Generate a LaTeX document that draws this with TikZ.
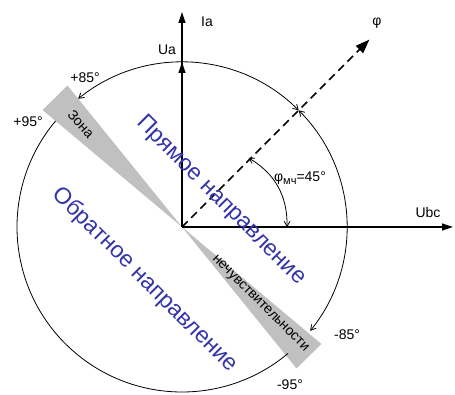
\documentclass[tikz,border=0pt]{standalone}
\usepackage{fontspec}
\setmainfont{Liberation Sans}
\usetikzlibrary{arrows.meta,calc}
\definecolor{txtblue}{RGB}{51,51,170}
\definecolor{zonegray}{RGB}{192,192,192}
\begin{document}
\begin{tikzpicture}[x=1pt,y=1pt,
 axis/.style={line width=1.2pt,-{Triangle[length=11pt,width=7pt]}},
 thinarc/.style={line width=0.8pt},
 barb/.style={line width=0.8pt,{Straight Barb[length=5pt,width=6pt]}-{Straight Barb[length=5pt,width=6pt]}},
 dasharrow/.style={line width=1.6pt,dash pattern=on 8pt off 5pt,-{Triangle[length=14pt,width=10pt]}},
 lbl/.style={font=\fontsize{14}{14}\selectfont,inner sep=0pt},
 big/.style={font=\fontsize{23}{23}\selectfont,text=txtblue,rotate=-45,inner sep=0pt},
 small/.style={font=\fontsize{14}{14}\selectfont,rotate=-45,inner sep=0pt}]
\useasboundingbox (0,0) rectangle (455,394);
\coordinate (O) at (182,167);
\begin{scope}[shift={(182,167)}]
\fill[zonegray] (0,0) -- (129:182) -- (140:182) -- cycle;
\fill[zonegray] (0,0) -- (-40:182) -- (-51:182) -- cycle;
\draw[barb] (129:165) arc[start angle=129,end angle=45,radius=165];
\draw[barb] (45:165) arc[start angle=45,end angle=-39,radius=165];
\draw[thinarc] (140:165) arc[start angle=140,end angle=310,radius=165];
\coordinate (Iatip) at (0,215);
\coordinate (Uatip) at (90:165);
\coordinate (Ubctip) at (271,0);
\coordinate (Phitip) at (45:265);
\coordinate (ma) at (46:96);
\coordinate (mb) at (105,0);
\end{scope}
\draw[axis] (O) -- (Iatip);
\draw[axis] (O) -- (Uatip);
\draw[axis] (O) -- (Ubctip);
\draw[dasharrow] (O) -- (Phitip);
\draw[barb] (ma) to[bend left=30] (mb);
\node[big] (direct) at (221,193) {Прямое направление};
\node[big] (reverse) at (145,114) {Обратное направление};
\node[small,rotate=-3] (zona) at (81,270) {Зона};
\node[small] (nech) at (260,90) {нечувствительности};
\node[lbl] (lIa) at (207,372) {Ia};
\node[lbl] (lUa) at (167,344) {Ua};
\node[lbl] (lphi) at (377,371) {φ};
\node[lbl] (lUbc) at (428,182) {Ubc};
\node[lbl] (l85) at (85,316) {+85°};
\node[lbl] (l95) at (28,272) {+95°};
\node[lbl] (lm85) at (347,59) {-85°};
\node[lbl] (lm95) at (290,9) {-95°};
\node[lbl] (lmch) at (300,216) {φ\raisebox{-0.5ex}{\fontsize{11}{11}\selectfont мч}=45°};
\end{tikzpicture}
\end{document}
